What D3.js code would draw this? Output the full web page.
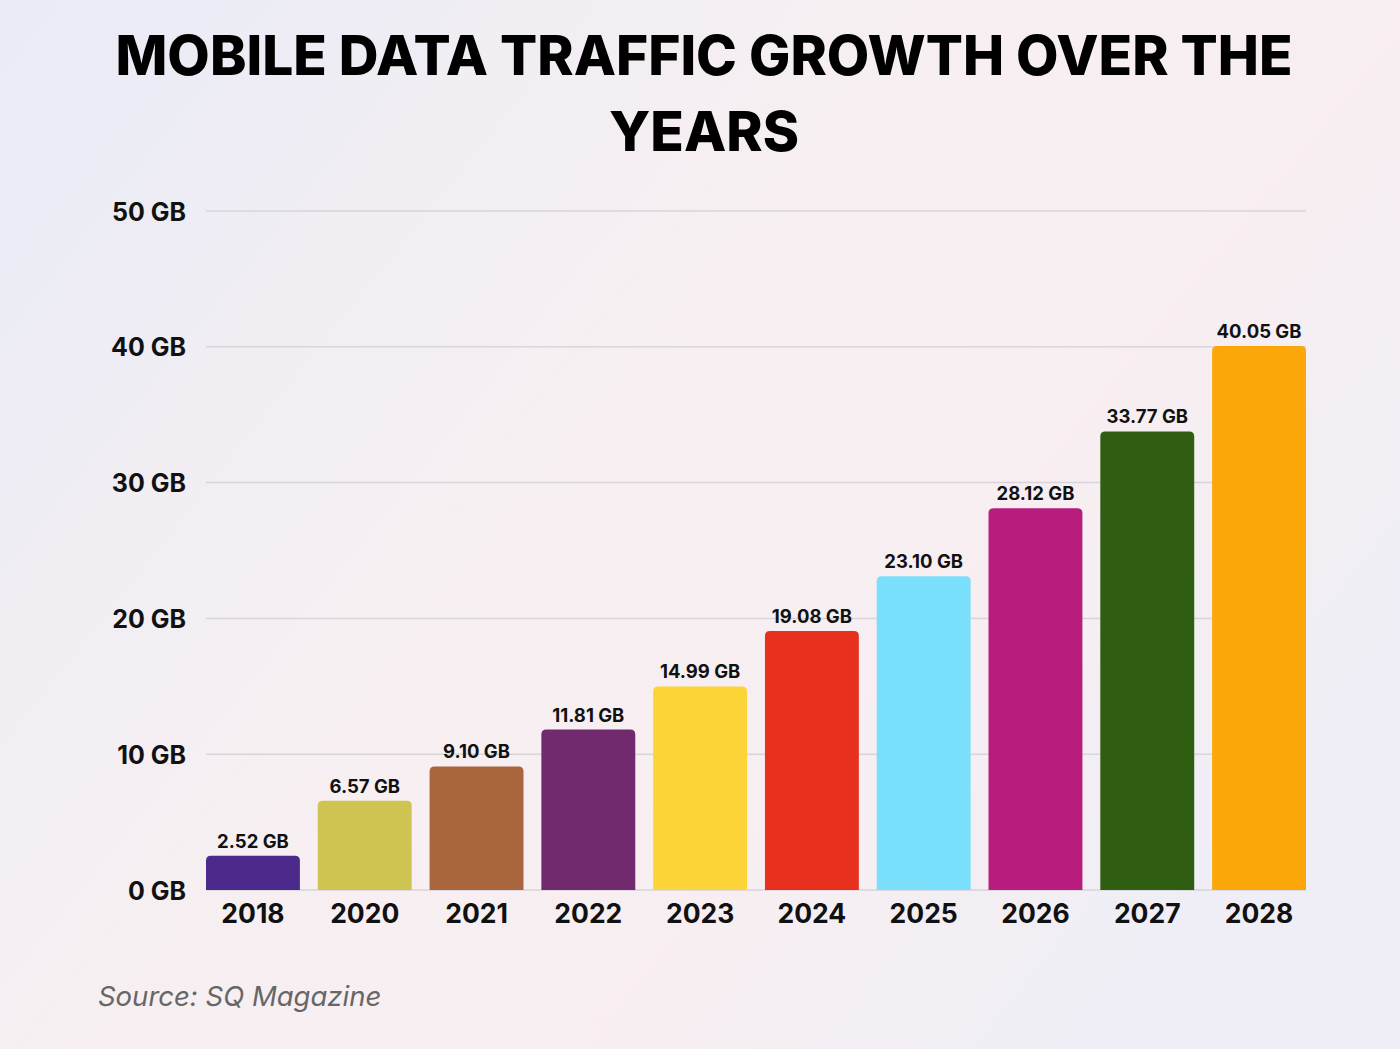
<!DOCTYPE html>
<html lang="en">
<head>
    <meta charset="UTF-8">
    <title>Mobile Data Traffic Growth Over the Years</title>
    <script src="https://d3js.org/d3.v7.min.js"></script>
    <style>
        body { margin: 0; }
        svg { display: block; }
        .tick-label { font-family: Inter, "Noto Sans", sans-serif; font-weight: 700; fill: #111; }
        .title { font-family: Inter, "Noto Sans", sans-serif; font-weight: 800; fill: #000; }
    </style>
</head>
<body>
<svg id="chart" width="1400" height="1049"></svg>
<script>
    const years = ["2018", "2020", "2021", "2022", "2023", "2024", "2025", "2026", "2027", "2028"];
    const traffic = [2.52, 6.57, 9.10, 11.81, 14.99, 19.08, 23.10, 28.12, 33.77, 40.05];
    const barColors = ["#4b2a8b", "#cfc352", "#a8653e", "#722a6e", "#fdd437", "#e8301f",
                       "#7adffa", "#b81c7d", "#2f5e12", "#fba70a"];
    const yTicks = [0, 10, 20, 30, 40, 50];
    const titleLines = ["MOBILE DATA TRAFFIC GROWTH OVER THE", "YEARS"];

    const width = 1400, height = 1049;
    const svg = d3.select("#chart");

    // background wash
    const defs = svg.append("defs");
    const grad = defs.append("linearGradient")
        .attr("id", "bg").attr("x1", "0").attr("y1", "0").attr("x2", "1").attr("y2", "0.6");
    grad.append("stop").attr("offset", "0%").attr("stop-color", "#e8ebf6");
    grad.append("stop").attr("offset", "45%").attr("stop-color", "#f6eff2");
    grad.append("stop").attr("offset", "75%").attr("stop-color", "#f8eef1");
    grad.append("stop").attr("offset", "100%").attr("stop-color", "#efeef6");
    svg.append("rect").attr("width", width).attr("height", height).attr("fill", "url(#bg)");

    // title
    svg.append("g").selectAll("text")
        .data(titleLines)
        .join("text")
        .attr("class", "title")
        .attr("x", 704)
        .attr("y", (d, i) => 75 + i * 76)
        .attr("text-anchor", "middle")
        .attr("font-size", 55)
        .text(d => d);

    const x = d3.scaleBand()
        .domain(years)
        .range([206, 1306])
        .paddingInner(0.16)
        .paddingOuter(0);

    const y = d3.scaleLinear()
        .domain([0, 50])
        .range([890, 211]);

    // y labels
    const yAxis = svg.append("g")
        .call(d3.axisLeft(y).tickValues(yTicks).tickSize(0).tickFormat(d => d + " GB"))
        .attr("transform", "translate(186,0)");
    yAxis.select(".domain").remove();
    yAxis.selectAll("text")
        .attr("class", "tick-label")
        .attr("font-size", 25)
        .attr("dy", "0.36em")
        .attr("x", 0);

    // gridlines
    svg.append("g").selectAll("line")
        .data(yTicks)
        .join("line")
        .attr("x1", 206).attr("x2", 1306)
        .attr("y1", d => y(d)).attr("y2", d => y(d))
        .attr("stroke", "#d7d5da")
        .attr("stroke-width", 1.5);

    // bars with rounded top corners
    const r = 5;
    function barPath(d, i) {
        const x0 = x(years[i]), w = x.bandwidth(), top = y(d), bot = y(0);
        return `M${x0},${bot}V${top + r}Q${x0},${top} ${x0 + r},${top}H${x0 + w - r}` +
               `Q${x0 + w},${top} ${x0 + w},${top + r}V${bot}Z`;
    }
    svg.append("g").selectAll("path")
        .data(traffic)
        .join("path")
        .attr("d", barPath)
        .attr("fill", (d, i) => barColors[i]);

    // value labels
    svg.append("g").selectAll("text")
        .data(traffic)
        .join("text")
        .attr("class", "tick-label")
        .attr("font-size", 18.5)
        .attr("text-anchor", "middle")
        .attr("x", (d, i) => x(years[i]) + x.bandwidth() / 2)
        .attr("y", d => y(d) - 8)
        .text(d => d.toFixed(2) + " GB");

    // x axis labels
    const xAxis = svg.append("g")
        .attr("transform", "translate(0,890)")
        .call(d3.axisBottom(x).tickSize(0));
    xAxis.select(".domain").remove();
    xAxis.selectAll("text")
        .attr("class", "tick-label")
        .attr("font-size", 26.5)
        .attr("y", 33)
        .attr("dy", 0);

    // source
    svg.append("text")
        .attr("x", 98)
        .attr("y", 1006)
        .attr("font-family", "Inter, 'Noto Sans', sans-serif")
        .attr("font-style", "italic")
        .attr("font-size", 27.5)
        .attr("fill", "#666")
        .text("Source: SQ Magazine");
</script>
</body>
</html>
